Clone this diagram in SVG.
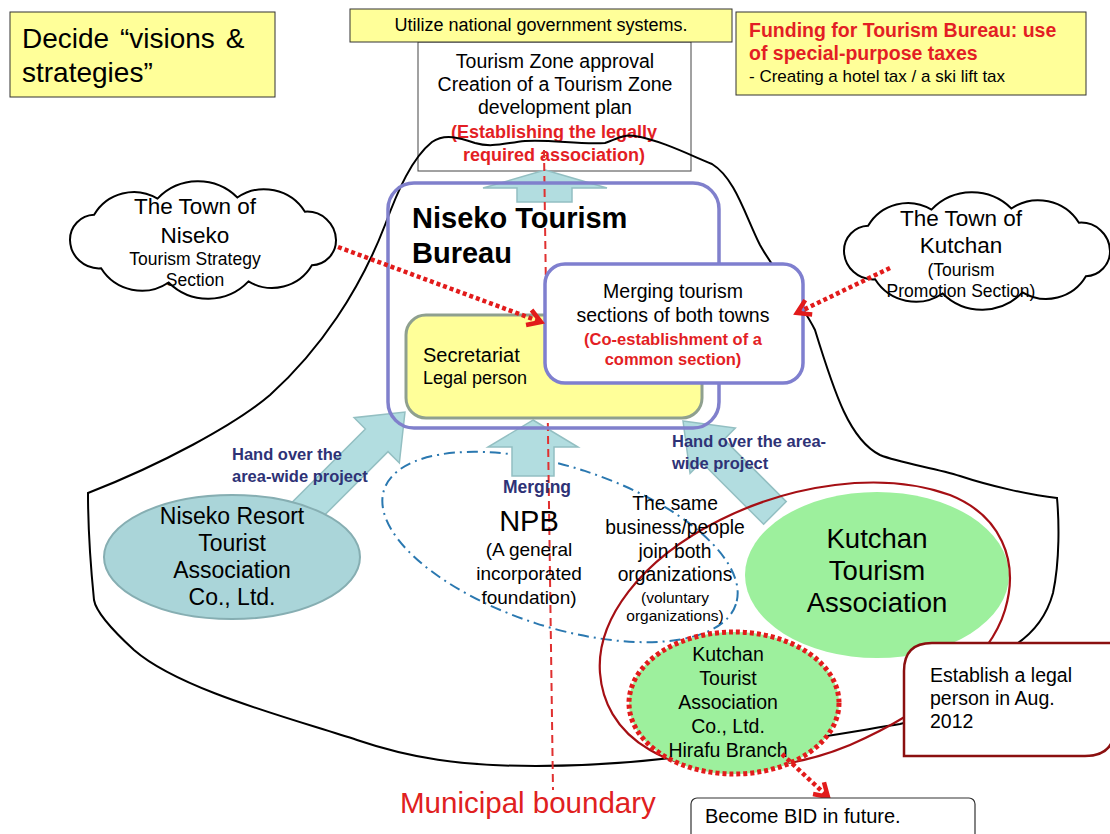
<svg xmlns="http://www.w3.org/2000/svg" width="1110" height="834" viewBox="0 0 1110 834">
<style>
.t{font-family:"Liberation Sans",Arial,sans-serif;fill:#000}
.c{text-anchor:middle}
.b{font-weight:bold}
.red{fill:#E31E24}
.navy{fill:#2E3276}
.ybox{fill:#FFFF99;stroke:#333;stroke-width:1}
.arrow{fill:#B2DDE0;stroke:#93BFC2;stroke-width:1.5}
.reddot{stroke:#E21B1B;stroke-width:4.5;stroke-dasharray:4 3;fill:none}
.cloud{fill:#fff;stroke:#000;stroke-width:2}
</style>
<defs>
<path id="cloudShape" d="M133,0 A25,25 0 0 1 108.9,25.3 A46,46 0 0 1 45.5,41.4 A56,56 0 0 1 -34.4,42.5 A48,48 0 0 1 -101.9,28.3 A29,29 0 0 1 -133,0 A25,25 0 0 1 -108.9,-25.3 A46,46 0 0 1 -45.5,-41.4 A56,56 0 0 1 34.4,-42.5 A48,48 0 0 1 101.9,-28.3 A29,29 0 0 1 133,0 Z"/>
<marker id="vhead" markerUnits="userSpaceOnUse" markerWidth="24" markerHeight="24" refX="16" refY="10" orient="auto" viewBox="0 0 24 20">
<path d="M3,2 L16,10 L3,18" fill="none" stroke="#E21B1B" stroke-width="4.5"/>
</marker>
</defs>
<rect width="1110" height="834" fill="#fff"/>

<g id="zone-box">
<rect x="418" y="42" width="273" height="129" fill="#fff" stroke="#444" stroke-width="1"/>
<text class="t c" font-size="19.5" x="555"><tspan x="555" y="68">Tourism Zone approval</tspan><tspan x="555" y="91">Creation of a Tourism Zone</tspan><tspan x="555" y="114">development plan</tspan></text>
<text class="t c b red" font-size="18"><tspan x="554" y="138">(Establishing the legally</tspan><tspan x="554" y="161">required association)</tspan></text>
</g>

<g id="utilize">
<rect class="ybox" x="350" y="9" width="382" height="33"/>
<text class="t c" font-size="18" x="541" y="31">Utilize national government systems.</text>
</g>

<g id="decide">
<rect class="ybox" x="10" y="12" width="265" height="85"/>
<text class="t" font-size="28" word-spacing="3"><tspan x="22" y="48">Decide “visions &amp;</tspan><tspan x="22" y="82">strategies”</tspan></text>
</g>

<g id="funding">
<rect class="ybox" x="736" y="12" width="350" height="83"/>
<text class="t b red" font-size="19.5"><tspan x="749" y="37">Funding for Tourism Bureau: use</tspan><tspan x="749" y="60">of special-purpose taxes</tspan></text>
<text class="t" font-size="17" x="749" y="82">- Creating a hotel tax / a ski lift tax</text>
</g>

<g id="mountain">
<path d="M88,493 C160,465 235,425 270,395 C320,350 360,290 385,225 C398,190 412,158 432,142 C445,133 460,138 475,143 C492,148 505,143 525,141 C550,139 580,145 605,143 C615,140 622,134 635,136 C660,140 690,155 712,164 C735,178 745,215 760,245 C775,272 800,300 815,330 C835,395 850,440 880,455 C900,463 935,468 960,476 C990,486 1030,495 1057,498 C1059,520 1060,560 1053,593 C1047,615 1035,632 1015,645 C980,680 940,715 900,724 C850,732 760,748 671,758 C620,764 580,766 536,766 C460,766 410,758 357,740 C290,718 180,690 134,650 C110,628 96,612 94,600 C90,560 88,520 88,493 Z" fill="none" stroke="#000" stroke-width="2"/>
</g>

<g id="cloud-niseko">
<use href="#cloudShape" class="cloud" transform="translate(203,240)"/>
<text class="t c" font-size="22.5"><tspan x="195" y="214">The Town of</tspan><tspan x="195" y="243">Niseko</tspan></text>
<text class="t c" font-size="17.5"><tspan x="195" y="265">Tourism Strategy</tspan><tspan x="195" y="286">Section</tspan></text>
</g>

<g id="cloud-kutchan">
<use href="#cloudShape" class="cloud" transform="translate(977,251)"/>
<text class="t c" font-size="22.5"><tspan x="961" y="226">The Town of</tspan><tspan x="961" y="253">Kutchan</tspan></text>
<text class="t c" font-size="17.5"><tspan x="961" y="276">(Tourism</tspan><tspan x="961" y="297">Promotion Section)</tspan></text>
</g>

<g id="voluntary">
<ellipse cx="560" cy="547" rx="185" ry="80" transform="rotate(18 560 547)" fill="none" stroke="#2A78B0" stroke-width="2" stroke-dasharray="11 5 2 5"/>
</g>

<g id="connectors">
<path class="arrow" d="M545,170 L607,188 L572,188 L572,202 L517,202 L517,188 L483,188 Z"/>
<path class="arrow" d="M533,420 L578,447 L554,447 L554,476 L512,476 L512,447 L488,447 Z"/>
<path class="arrow" d="M0,0 L32,40 L16,40 L16,145 L-16,145 L-16,40 L-32,40 Z" transform="translate(405,412) rotate(45)"/>
<path class="arrow" d="M0,0 L32,42 L16,42 L16,130 L-16,130 L-16,42 L-32,42 Z" transform="translate(683,421) rotate(-45)"/>
</g>

<g id="niseko-resort">
<ellipse cx="232" cy="557" rx="128" ry="62" fill="#AAD5D9" stroke="#86AEB2" stroke-width="2"/>
<text class="t c" font-size="23"><tspan x="232" y="524">Niseko Resort</tspan><tspan x="232" y="551">Tourist</tspan><tspan x="232" y="578">Association</tspan><tspan x="232" y="605">Co., Ltd.</tspan></text>
</g>

<g id="kutchan-assoc">
<ellipse cx="877" cy="575" rx="132" ry="83" fill="#9DF09D"/>
<text class="t c" font-size="27.5"><tspan x="877" y="548">Kutchan</tspan><tspan x="877" y="580">Tourism</tspan><tspan x="877" y="612">Association</tspan></text>
</g>

<g id="kutchan-group">
<path d="M600,673 C596,620 640,560 720,520 C790,485 880,470 950,495 C1000,515 1020,560 1005,610 C990,660 930,710 850,745 C790,770 700,780 650,750 C615,730 602,700 600,673 Z" fill="none" stroke="#A50F14" stroke-width="2.2"/>
</g>

<g id="hirafu">
<ellipse cx="734" cy="703" rx="105" ry="71" fill="#9DF09D" stroke="#E21B1B" stroke-width="5" stroke-dasharray="4 3"/>
<text class="t c" font-size="19.5"><tspan x="728" y="661">Kutchan</tspan><tspan x="728" y="685">Tourist</tspan><tspan x="728" y="709">Association</tspan><tspan x="728" y="733">Co., Ltd.</tspan><tspan x="728" y="757">Hirafu Branch</tspan></text>
</g>

<g id="boundary">
<line x1="544" y1="150" x2="553" y2="790" stroke="#E03030" stroke-width="2" stroke-dasharray="8 5"/>
<text class="t red" font-size="29.5" x="400" y="813" style="fill:#E02020">Municipal boundary</text>
</g>

<g id="bureau">
<rect x="388" y="183" width="331" height="245" rx="26" fill="none" stroke="#8080CC" stroke-width="3.5"/>
<text class="t b" font-size="29"><tspan x="412" y="228">Niseko Tourism</tspan><tspan x="412" y="263">Bureau</tspan></text>
</g>

<g id="secretariat">
<rect x="406" y="315" width="296" height="103" rx="20" fill="#FFFF99" stroke="#8FA08F" stroke-width="3"/>
<text class="t" font-size="20" x="423" y="362">Secretariat</text>
<text class="t" font-size="18" x="423" y="384">Legal person</text>
</g>

<g id="merging">
<rect x="545" y="264" width="258" height="119" rx="20" fill="#fff" stroke="#7F7FCF" stroke-width="3.5"/>
<text class="t c" font-size="19.5"><tspan x="673" y="298">Merging tourism</tspan><tspan x="673" y="322">sections of both towns</tspan></text>
<text class="t c b red" font-size="16.5"><tspan x="673" y="345">(Co-establishment of a</tspan><tspan x="673" y="365">common section)</tspan></text>
</g>

<g id="red-arrows">
<line class="reddot" x1="338" y1="247" x2="541" y2="322" marker-end="url(#vhead)"/>
<line class="reddot" x1="890" y1="268" x2="797" y2="313" marker-end="url(#vhead)"/>
<line class="reddot" x1="782" y1="754" x2="828" y2="797" marker-end="url(#vhead)"/>
</g>

<g id="labels">
<text class="t b navy" font-size="16.5"><tspan x="232" y="460">Hand over the</tspan><tspan x="232" y="482">area-wide project</tspan></text>
<text class="t b navy" font-size="16.5"><tspan x="672" y="447">Hand over the area-</tspan><tspan x="672" y="469">wide project</tspan></text>
<text class="t b navy c" font-size="17.5" x="537" y="493">Merging</text>
<text class="t c" font-size="29" x="529" y="531">NPB</text>
<text class="t c" font-size="19" x="529"><tspan x="529" y="556">(A general</tspan><tspan x="529" y="580">incorporated</tspan><tspan x="529" y="604">foundation)</tspan></text>
<text class="t c" font-size="19.3"><tspan x="675" y="510">The same</tspan><tspan x="675" y="534">business/people</tspan><tspan x="675" y="558">join both</tspan><tspan x="675" y="581">organizations</tspan></text>
<text class="t c" font-size="15.5"><tspan x="675" y="603">(voluntary</tspan><tspan x="675" y="621">organizations)</tspan></text>
</g>

<g id="callout">
<path d="M904,756 L904,671 Q904,643 932,643 L1115,643 L1115,726 Q1115,756 1085,756 Z" fill="#fff" stroke="#8B1010" stroke-width="2.5"/>
<text class="t" font-size="19.5"><tspan x="930" y="682">Establish a legal</tspan><tspan x="930" y="705">person in Aug.</tspan><tspan x="930" y="728">2012</tspan></text>
</g>

<g id="bid">
<rect x="691" y="798" width="284" height="50" rx="6" fill="#fff" stroke="#333" stroke-width="1.2"/>
<text class="t" font-size="20" x="705" y="823">Become BID in future.</text>
</g>
</svg>
